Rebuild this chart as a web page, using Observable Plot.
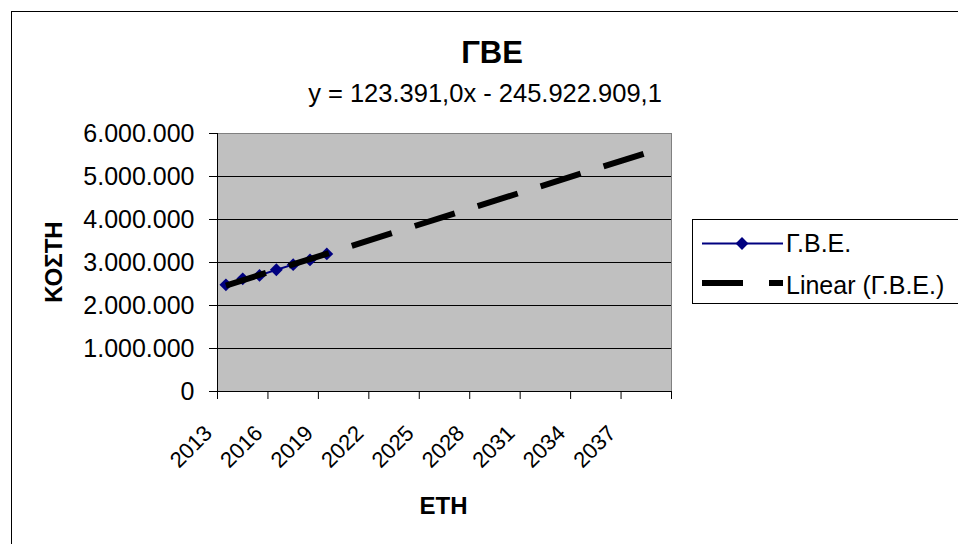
<!DOCTYPE html>
<html>
<head>
<meta charset="utf-8">
<script src="https://cdn.jsdelivr.net/npm/d3@7"></script>
<script src="https://cdn.jsdelivr.net/npm/@observablehq/plot@0.6"></script>
<style>
  html, body { margin: 0; padding: 0; background: #fff; }
  #chart { position: relative; width: 958px; height: 544px; overflow: hidden; }
  #chart svg { display: block; }
</style>
</head>
<body>
<div id="chart"></div>
<script>
// ---- data ----
const years = [2013, 2014, 2015, 2016, 2017, 2018, 2019];
const costs = [2480000, 2620000, 2700000, 2830000, 2950000, 3060000, 3200000];
const seriesName = "Γ.Β.Ε.";
const trendName = "Linear (Γ.Β.Ε.)";
const trendSlope = 123391.0;           // from the trendline equation
const trendIntercept = -245922909.1;   // from the trendline equation
const trendYears = [2013, 2038];       // trendline start / forecast end
const equationLabel = "y = 123.391,0x - 245.922.909,1";
const titleText = "ΓΒΕ";
const yTitle = "ΚΟΣΤΗ";
const xTitle = "ΕΤΗ";
const yTicks = [0, 1000000, 2000000, 3000000, 4000000, 5000000, 6000000];
const xTickLabels = ["2013", "2016", "2019", "2022", "2025", "2028", "2031", "2034", "2037"];
const firstCategory = 2013, lastCategory = 2039;

// ---- derived tables ----
const data = years.map((y, i) => ({year: y, cost: costs[i]}));
const trend = trendYears.map(x => ({year: x, cost: trendSlope * x + trendIntercept}));
const xBoundaries = d3.range(firstCategory - 0.5, lastCategory + 0.6, 3);
const gridVals = yTicks.filter(v => v > 0 && v < 6000000);

const FONT = "'Liberation Sans', Arial, Helvetica, sans-serif";
const loc = d3.formatLocale({decimal: ",", thousands: ".", grouping: [3], currency: ["", ""]});
const fmt = loc.format(",");
const NAVY = "#000080";

const plot = Plot.plot({
  width: 958,
  height: 544,
  marginLeft: 217,
  marginRight: 287,
  marginTop: 133,
  marginBottom: 153,
  style: {fontFamily: FONT, color: "#000", background: "#fff", overflow: "visible"},
  x: {type: "linear", domain: [firstCategory - 0.5, lastCategory + 0.5], axis: null},
  y: {type: "linear", domain: [0, 6000000], axis: null},
  marks: [
    Plot.frame({fill: "#c0c0c0", stroke: "#808080"}),
    Plot.ruleY(gridVals, {stroke: "#000", strokeWidth: 1}),
    Plot.ruleY([0], {stroke: "#000", strokeWidth: 1}),
    Plot.ruleX([firstCategory - 0.5], {stroke: "#000", strokeWidth: 1}),
    Plot.axisY({ticks: yTicks, tickSize: 8, tickPadding: 15, tickFormat: fmt, fontSize: 25, label: null}),
    Plot.axisX({ticks: xBoundaries, tickSize: 8, tickFormat: () => "", label: null}),
    Plot.text(xTickLabels, {
      x: d => +d - 0.5, text: d => d, frameAnchor: "bottom",
      dy: 43, dx: -4, rotate: -45, textAnchor: "end", lineAnchor: "bottom",
      fontSize: 22, fill: "#000"
    }),
    Plot.line(data, {x: "year", y: "cost", stroke: NAVY, strokeWidth: 2}),
    Plot.dot(data, {x: "year", y: "cost", symbol: "diamond2", r: 5.8, fill: NAVY, stroke: "none"}),
    Plot.line(trend, {x: "year", y: "cost", stroke: "#000", strokeWidth: 6, strokeDasharray: "42,24", strokeLinecap: "butt"})
  ]
});

document.getElementById("chart").appendChild(plot);

// ---- chart decorations (outer border, titles, legend) ----
const svg = d3.select(plot);
svg.insert("rect", ":first-child")
  .attr("x", 11.5).attr("y", 11.5).attr("width", 1000).attr("height", 600)
  .attr("fill", "#fff").attr("stroke", "#000").attr("stroke-width", 1);

const deco = svg.append("g").attr("font-family", FONT).attr("fill", "#000");
deco.append("text").attr("x", 492).attr("y", 63).attr("text-anchor", "middle")
  .attr("font-size", 31).attr("font-weight", "bold").text(titleText);
deco.append("text").attr("x", 485).attr("y", 102).attr("text-anchor", "middle")
  .attr("font-size", 25.5).text(equationLabel);
deco.append("text").attr("transform", "translate(62,262) rotate(-90)").attr("text-anchor", "middle")
  .attr("font-size", 24).attr("font-weight", "bold").text(yTitle);
deco.append("text").attr("x", 443.5).attr("y", 514).attr("text-anchor", "middle")
  .attr("font-size", 24).attr("font-weight", "bold").text(xTitle);

// legend
const lg = svg.append("g").attr("font-family", FONT).attr("text-anchor", "start");
lg.append("rect").attr("x", 692.5).attr("y", 219.5).attr("width", 400).attr("height", 84)
  .attr("fill", "#fff").attr("stroke", "#000").attr("stroke-width", 1);
lg.append("line").attr("x1", 702).attr("x2", 783).attr("y1", 243.5).attr("y2", 243.5)
  .attr("stroke", NAVY).attr("stroke-width", 2);
lg.append("path").attr("d", d3.symbol(d3.symbolDiamond2, 105)())
  .attr("transform", "translate(742,243.5)").attr("fill", NAVY);
lg.append("text").attr("x", 786).attr("y", 251.5).attr("font-size", 25)
  .attr("text-anchor", "start").text(seriesName);
lg.append("line").attr("x1", 702).attr("x2", 743).attr("y1", 283).attr("y2", 283)
  .attr("stroke", "#000").attr("stroke-width", 6);
lg.append("line").attr("x1", 769).attr("x2", 783).attr("y1", 283).attr("y2", 283)
  .attr("stroke", "#000").attr("stroke-width", 6);
lg.append("text").attr("x", 786).attr("y", 293.5).attr("font-size", 25)
  .attr("text-anchor", "start").text(trendName);
</script>
</body>
</html>
